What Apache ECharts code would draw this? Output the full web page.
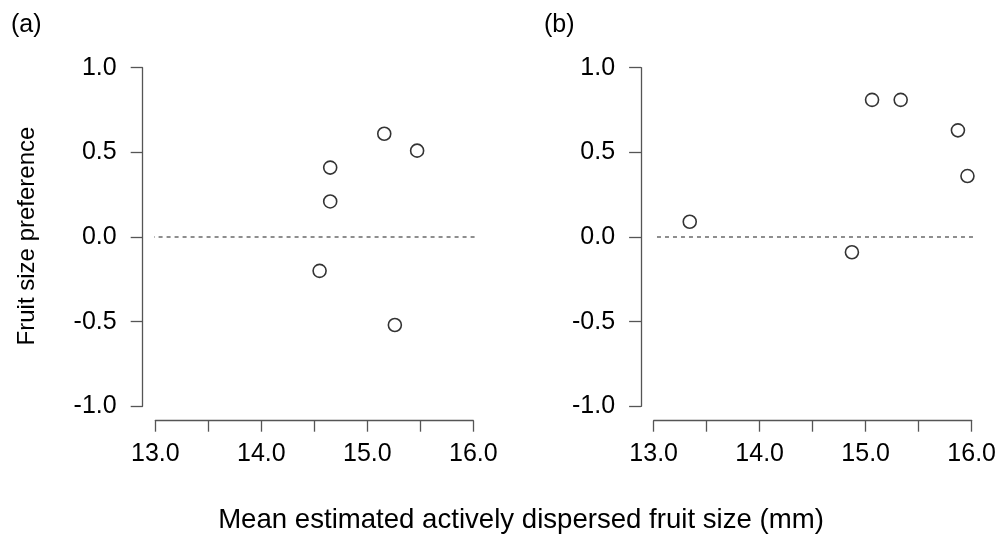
<!DOCTYPE html>
<html><head><meta charset="utf-8">
<script src="https://cdn.jsdelivr.net/npm/echarts@6/dist/echarts.min.js"></script>
<style>html,body{margin:0;padding:0;background:#fff}#c{width:1001px;height:535px}</style>
</head><body><div id="c"></div>
<script>
const panelLabels = ['(a)', '(b)'];
const sizeA = [14.65, 14.65, 15.16, 15.47, 14.55, 15.26];
const prefA = [0.41, 0.21, 0.61, 0.51, -0.20, -0.52];
const sizeB = [13.34, 15.06, 15.33, 15.87, 15.96, 14.87];
const prefB = [0.09, 0.81, 0.81, 0.63, 0.36, -0.09];
const xTickLabels = {13: '13.0', 14: '14.0', 15: '15.0', 16: '16.0'};
const yTickLabels = {'-1': '-1.0', '-0.5': '-0.5', '0': '0.0', '0.5': '0.5', '1': '1.0'};
const xTitle = 'Mean estimated actively dispersed fruit size (mm)';
const yTitle = 'Fruit size preference';
const refLineX = [12.88, 16.12];
const refLineY = [0, 0];

const FONT = 'Liberation Sans, Arial, Helvetica, sans-serif';
const AX = '#555';
const TXT = '#000';
const chart = echarts.init(document.getElementById('c'), null, {renderer: 'canvas'});

function xAx(i) {
  return {
    type: 'value', gridIndex: i, min: 13, max: 16, interval: 0.5, offset: 14.4, position: 'bottom',
    axisLine: {show: true, onZero: false, lineStyle: {color: AX, width: 1.3}},
    axisTick: {show: true, length: 11, lineStyle: {color: AX, width: 1.3}},
    axisLabel: {formatter: v => xTickLabels[v] || '', fontSize: 25, color: TXT, fontFamily: FONT, margin: 21},
    splitLine: {show: false}
  };
}
function yAx(i) {
  return {
    type: 'value', gridIndex: i, min: -1, max: 1, interval: 0.5, offset: 12.6, position: 'left',
    axisLine: {show: true, onZero: false, lineStyle: {color: AX, width: 1.3}},
    axisTick: {show: true, length: 12, lineStyle: {color: AX, width: 1.3}},
    axisLabel: {formatter: v => yTickLabels[String(v)] ?? '', fontSize: 25, color: TXT, fontFamily: FONT, margin: 26},
    splitLine: {show: false}
  };
}
function pts(xs, ys) { return xs.map((x, k) => [x, ys[k]]); }
function scatter(i, xs, ys) {
  return {
    type: 'scatter', xAxisIndex: i, yAxisIndex: i, data: pts(xs, ys),
    symbol: 'circle', symbolSize: 13,
    itemStyle: {color: '#fff', borderColor: '#000', borderWidth: 1.6},
    emphasis: {disabled: true}, z: 3
  };
}
function ref(i) {
  return {
    type: 'line', xAxisIndex: i, yAxisIndex: i, data: pts(refLineX, refLineY),
    clip: false, symbol: 'none', silent: true,
    lineStyle: {color: '#444', width: 1.2, type: [4, 4]}, z: 2
  };
}

chart.setOption({
  animation: false,
  backgroundColor: '#fff',
  grid: [
    {left: 155.3, top: 67.7, width: 318, height: 338.6, containLabel: false},
    {left: 653.7, top: 67.7, width: 318, height: 338.6, containLabel: false}
  ],
  xAxis: [xAx(0), xAx(1)],
  yAxis: [yAx(0), yAx(1)],
  series: [ref(0), scatter(0, sizeA, prefA), ref(1), scatter(1, sizeB, prefB)],
  graphic: [
    {type: 'text', left: 11, top: 13, style: {text: panelLabels[0], fontSize: 25, fill: TXT, fontFamily: FONT}},
    {type: 'text', left: 544, top: 13, style: {text: panelLabels[1], fontSize: 25, fill: TXT, fontFamily: FONT}},
    {type: 'text', x: 27, y: 236, rotation: Math.PI / 2,
     style: {text: yTitle, fontSize: 24, fill: TXT, fontFamily: FONT, align: 'center', verticalAlign: 'middle'}},
    {type: 'text', x: 521, y: 520,
     style: {text: xTitle, fontSize: 27.6, fill: TXT, fontFamily: FONT, align: 'center', verticalAlign: 'middle'}}
  ]
});
</script></body></html>
